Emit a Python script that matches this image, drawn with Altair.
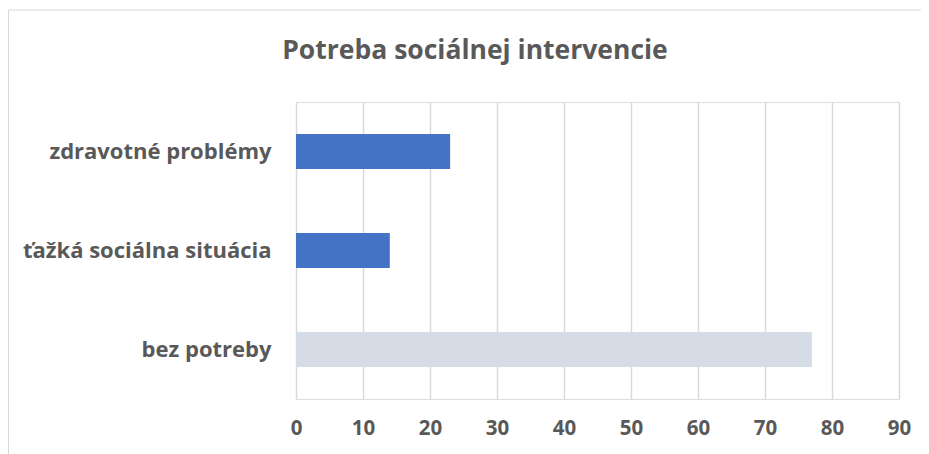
import altair as alt
import pandas as pd

title_text = ["Potreba sociálnej intervencie"]
categories = ["zdravotné problémy", "ťažká sociálna situácia", "bez potreby "]
values = [23, 14, 77]
colors = ["#4472C4", "#4472C4", "#D6DCE5"]
x_ticks = [0, 10, 20, 30, 40, 50, 60, 70, 80, 90]

df = pd.DataFrame({"kat": categories, "hodnota": values, "farba": colors})

FONT = "Open Sans"
GRAY = "#595959"

bars = alt.Chart(df).mark_bar(size=35).encode(
    y=alt.Y("kat:N", sort=categories, title=None,
            axis=alt.Axis(labelFontSize=22, labelFontWeight="bold", labelColor=GRAY,
                          labelFont=FONT, labelPadding=25, labelLimit=400,
                          ticks=False, domain=False, grid=False)),
    x=alt.X("hodnota:Q", title=None,
            scale=alt.Scale(domain=[0, 90], nice=False),
            axis=alt.Axis(values=x_ticks, labelFontSize=20.5, labelFlush=False,
                          labelFontWeight="bold", labelColor=GRAY, labelFont=FONT,
                          labelPadding=19, ticks=False, domain=False,
                          gridColor="#D9D9D9", gridWidth=1.5)),
    color=alt.Color("farba:N", scale=None, legend=None),
)

title_df = pd.DataFrame({"t": title_text})
title = alt.Chart(title_df).mark_text(
    font=FONT, fontSize=26.5, fontWeight="bold", color=GRAY,
    align="center", baseline="alphabetic"
).encode(text="t:N", x=alt.value(179), y=alt.value(-43))

border_df = pd.DataFrame({"b": [0]})
left_border = alt.Chart(border_df).mark_rule(color="#D9D9D9", strokeWidth=1).encode(
    x=alt.value(-287.5), y=alt.value(-92), y2=alt.value(380)
)
top_border = alt.Chart(border_df).mark_rule(color="#D9D9D9", strokeWidth=1).encode(
    x=alt.value(-287.5), x2=alt.value(625), y=alt.value(-92)
)

chart = alt.layer(bars, title, left_border, top_border).properties(
    width=603, height=297,
    autosize=alt.AutoSizeParams(type="none"),
    padding={"left": 288, "top": 94, "right": 22, "bottom": 60},
).configure_view(stroke=None).configure(background="white")

chart.save("out.html", embed_options={"renderer": "svg", "actions": False})
